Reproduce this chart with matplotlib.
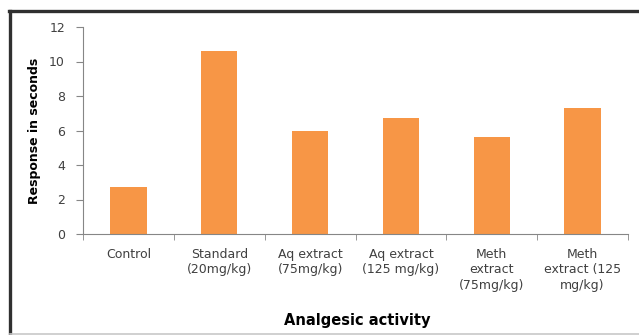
import matplotlib.pyplot as plt
from matplotlib.lines import Line2D

groups = ["Control", "Standard\n(20mg/kg)", "Aq extract\n(75mg/kg)",
          "Aq extract\n(125 mg/kg)", "Meth\nextract\n(75mg/kg)",
          "Meth\nextract (125\nmg/kg)"]
response = [2.7, 10.6, 6.0, 6.7, 5.6, 7.3]
yticks = [0, 2, 4, 6, 8, 10, 12]

bar_color = "#F79646"
text_gray = "#404040"
axis_gray = "#868686"

fig = plt.figure(figsize=(6.39, 3.35), dpi=100)
ax = fig.add_axes([83 / 639, 101 / 335, 545 / 639, 207 / 335])

x = list(range(len(groups)))
ax.bar(x, response, width=0.4, color=bar_color, zorder=2)

ax.set_xlim(-0.5, len(groups) - 0.5)
ax.set_ylim(0, 12)
ax.set_yticks(yticks)
ax.set_yticklabels([str(t) for t in yticks], fontsize=9, color=text_gray)

# category labels sit between the boundary ticks
ax.set_xticks(x)
ax.set_xticklabels(groups, fontsize=9, color=text_gray, linespacing=1.25,
                   va="top")
ax.tick_params(axis="x", length=0, pad=10)
ax.set_xticks([i - 0.5 for i in range(len(groups) + 1)], minor=True)
ax.tick_params(axis="x", which="minor", length=4, color=axis_gray, direction="out")
ax.tick_params(axis="y", length=5, color=axis_gray, direction="out", pad=8)

for side in ("top", "right"):
    ax.spines[side].set_visible(False)
for side in ("left", "bottom"):
    ax.spines[side].set_color(axis_gray)
    ax.spines[side].set_linewidth(0.8)

ax.set_ylabel("Response in seconds", fontsize=9, fontweight="bold",
              color="black", labelpad=6)
fig.text(357 / 639, 1 - 320 / 335, "Analgesic activity", fontsize=10.5,
         fontweight="bold", ha="center", va="center")

# outer frame: dark left and top edges, faint bottom edge
def px(xp, yp):
    return xp / 639, 1 - yp / 335

for (x0, y0), (x1, y1), col, lw in [
        ((10, 11), (10, 335), "#303030", 2.4),
        ((9, 11), (639, 11), "#303030", 2.4),
        ((10, 333.5), (639, 333.5), "#c8c8c8", 1.2)]:
    (fx0, fy0), (fx1, fy1) = px(x0, y0), px(x1, y1)
    fig.add_artist(Line2D([fx0, fx1], [fy0, fy1], transform=fig.transFigure,
                          color=col, linewidth=lw))

fig.savefig("out.png", dpi=100)
